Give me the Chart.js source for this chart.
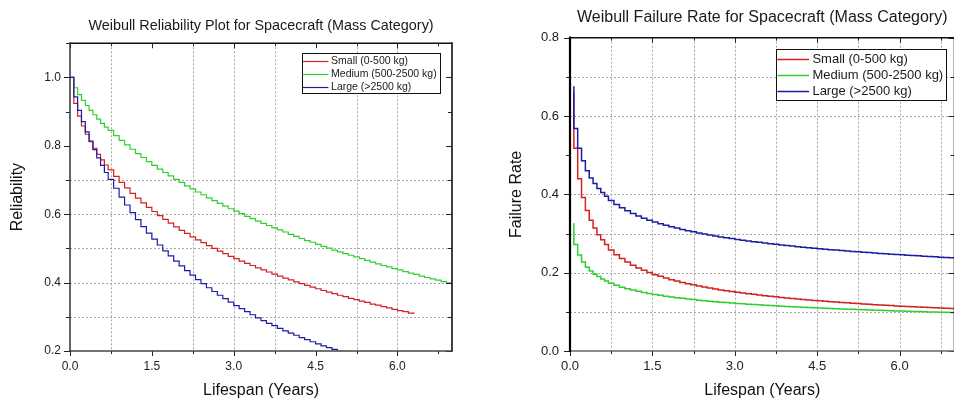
<!DOCTYPE html>
<html>
<head>
<meta charset="utf-8">
<script src="https://cdn.jsdelivr.net/npm/chart.js@4.4.1/dist/chart.umd.min.js"></script>
<style>
  html, body { margin: 0; padding: 0; background: #fff; overflow: hidden; }
  body { width: 954px; height: 401px; position: relative; }
  #izq { position: absolute; left: 0; top: 0; }
  #der { position: absolute; left: 477px; top: 0; }
</style>
</head>
<body>
<canvas id="izq" width="477" height="401"></canvas>
<canvas id="der" width="485" height="401"></canvas>
<script>
// tiempos (años) de cada escalón
const years = [0, 0.07, 0.14, 0.21, 0.28, 0.35, 0.42, 0.49, 0.56, 0.63, 0.7,
  0.8, 0.9, 1.0, 1.1, 1.2, 1.3, 1.4, 1.5, 1.6, 1.7, 1.8, 1.9, 2.0, 2.1, 2.2, 2.3, 2.4, 2.5,
  2.6, 2.7, 2.8, 2.9, 3.0, 3.1, 3.2, 3.3, 3.4, 3.5, 3.6, 3.7, 3.8, 3.9, 4.0, 4.1, 4.2,
  4.3, 4.4, 4.5, 4.6, 4.7, 4.8, 4.9, 5.0, 5.1, 5.2, 5.3, 5.4, 5.5, 5.6, 5.7, 5.8, 5.9,
  6.0, 6.1, 6.2, 6.3, 6.4, 6.5, 6.6, 6.7, 6.8, 6.9, 7.0];

const seriesNames = ["Small (0-500 kg)", "Medium (500-2500 kg)", "Large (>2500 kg)"];
const seriesColors = ["#d42020", "#2fcf2f", "#1c1ca8"];

// confiabilidad
const relSmall = [1.0, 0.924, 0.887, 0.858, 0.834, 0.812, 0.793, 0.775, 0.759, 0.744, 0.730,
  0.711, 0.693, 0.677, 0.661, 0.647, 0.633, 0.620, 0.608, 0.596, 0.585, 0.574, 0.563, 0.553,
  0.544, 0.534, 0.525, 0.517, 0.508, 0.500, 0.492, 0.485, 0.477, 0.470, 0.463, 0.456, 0.450,
  0.443, 0.437, 0.431, 0.425, 0.419, 0.413, 0.408, 0.402, 0.397, 0.392, 0.387, 0.382, 0.377,
  0.372, 0.368, 0.363, 0.359, 0.354, 0.350, 0.346, 0.342, 0.337, 0.334, 0.330, 0.326, 0.322,
  0.318, 0.315, 0.311, 0.308];
const relMedium = [1.0, 0.970, 0.950, 0.933, 0.918, 0.904, 0.891, 0.878, 0.866, 0.855, 0.845,
  0.830, 0.816, 0.803, 0.790, 0.777, 0.766, 0.754, 0.743, 0.732, 0.722, 0.712, 0.702, 0.693,
  0.683, 0.674, 0.665, 0.657, 0.648, 0.640, 0.632, 0.624, 0.616, 0.609, 0.602, 0.594, 0.587,
  0.580, 0.573, 0.567, 0.560, 0.554, 0.548, 0.541, 0.535, 0.529, 0.523, 0.518, 0.512, 0.506,
  0.501, 0.495, 0.490, 0.485, 0.480, 0.475, 0.470, 0.465, 0.460, 0.455, 0.450, 0.446, 0.441,
  0.437, 0.432, 0.428, 0.424, 0.419, 0.415, 0.411, 0.407, 0.403, 0.399, 0.395];
const relLarge = [1.0, 0.943, 0.904, 0.871, 0.841, 0.814, 0.789, 0.765, 0.743, 0.722, 0.702,
  0.676, 0.650, 0.627, 0.605, 0.584, 0.564, 0.545, 0.527, 0.510, 0.493, 0.478, 0.463, 0.449,
  0.435, 0.422, 0.409, 0.397, 0.385, 0.374, 0.363, 0.353, 0.343, 0.333, 0.324, 0.315, 0.306,
  0.297, 0.289, 0.281, 0.274, 0.266, 0.259, 0.252, 0.246, 0.239, 0.233, 0.227, 0.221, 0.215,
  0.210, 0.205, 0.199, 0.194];

// tasa de falla
const rateSmall = [null, 0.660, 0.518, 0.440, 0.392, 0.359, 0.334, 0.314, 0.297, 0.284, 0.272,
  0.258, 0.246, 0.236, 0.227, 0.219, 0.212, 0.206, 0.2005, 0.195, 0.191, 0.1865, 0.182, 0.179,
  0.175, 0.172, 0.169, 0.166, 0.1635, 0.161, 0.1585, 0.156, 0.154, 0.152, 0.150, 0.148, 0.1463,
  0.1446, 0.1429, 0.1413, 0.1398, 0.1383, 0.1369, 0.1355, 0.1341, 0.1329, 0.1316, 0.1304,
  0.1292, 0.1281, 0.1270, 0.1259, 0.1249, 0.1239, 0.1229, 0.1220, 0.1211, 0.1202, 0.1193,
  0.1184, 0.1176, 0.1168, 0.1160, 0.1152, 0.1144, 0.1137, 0.1130, 0.1123, 0.1116, 0.1109,
  0.1102, 0.1096, 0.1089, 0.1083];
const rateMedium = [null, 0.326, 0.272, 0.245, 0.227, 0.214, 0.204, 0.196, 0.190, 0.184, 0.179,
  0.1729, 0.1677, 0.1631, 0.1591, 0.1556, 0.1524, 0.1495, 0.1468, 0.1444, 0.1421, 0.1400,
  0.1380, 0.1362, 0.1345, 0.1329, 0.1314, 0.1299, 0.1285, 0.1272, 0.1260, 0.1248, 0.1237,
  0.1226, 0.1216, 0.1206, 0.1196, 0.1187, 0.1178, 0.1169, 0.1161, 0.1153, 0.1145, 0.1138,
  0.1130, 0.1123, 0.1116, 0.1110, 0.1103, 0.1097, 0.1091, 0.1085, 0.1079, 0.1073, 0.1068,
  0.1063, 0.1057, 0.1052, 0.1047, 0.1042, 0.1038, 0.1033, 0.1028, 0.1024, 0.1019, 0.1015,
  0.1011, 0.1007, 0.1003, 0.0999, 0.0995, 0.0991, 0.0987, 0.0984];
const rateLarge = [null, 0.676, 0.568, 0.518, 0.486, 0.460, 0.442, 0.428, 0.415, 0.405, 0.395,
  0.384, 0.374, 0.3655, 0.358, 0.351, 0.345, 0.339, 0.334, 0.3296, 0.3252, 0.3212, 0.3173,
  0.3138, 0.3104, 0.3073, 0.3043, 0.3014, 0.2987, 0.2962, 0.2937, 0.2914, 0.2892, 0.287,
  0.2849, 0.2830, 0.2810, 0.2792, 0.2774, 0.2757, 0.2741, 0.2725, 0.2709, 0.2694, 0.2679,
  0.2665, 0.2652, 0.2638, 0.2625, 0.2612, 0.2600, 0.2588, 0.2576, 0.2565, 0.2554, 0.2543,
  0.2532, 0.2522, 0.2512, 0.2502, 0.2492, 0.2483, 0.2473, 0.2464, 0.2455, 0.2446, 0.2438,
  0.2429, 0.2421, 0.2413, 0.2405, 0.2397, 0.2390, 0.2382];

const FUENTE = "'Liberation Sans', Arial, sans-serif";
Chart.defaults.font.family = FUENTE;
Chart.defaults.color = "#222";

function puntos(vals) {
  return vals.map((v, i) => ({ x: years[i], y: v })).filter(p => p.y !== null);
}

function series(valores, stepped, ancho) {
  // el orden hace que Large quede encima
  const orden = [2, 1, 0];
  return valores.map((vals, i) => ({
    label: seriesNames[i],
    data: puntos(vals),
    borderColor: seriesColors[i],
    borderWidth: ancho,
    pointRadius: 0,
    stepped: stepped,
    fill: false,
    order: orden[i]
  }));
}

// rejilla punteada, marco y marcas de los ejes
const marco = {
  id: "marco",
  beforeDatasetsDraw(chart, args, o) {
    const { ctx, chartArea: a, scales: { x, y } } = chart;
    ctx.save();
    ctx.strokeStyle = "#a6a6a6";
    ctx.lineWidth = 1;
    ctx.setLineDash([2, 2]);
    o.gridX.forEach(v => {
      const px = Math.round(x.getPixelForValue(v)) + 0.5;
      ctx.beginPath(); ctx.moveTo(px, a.top); ctx.lineTo(px, a.bottom); ctx.stroke();
    });
    o.gridY.forEach(v => {
      const py = Math.round(y.getPixelForValue(v)) + 0.5;
      ctx.beginPath(); ctx.moveTo(a.left, py); ctx.lineTo(a.right, py); ctx.stroke();
    });
    ctx.restore();
  },
  afterDraw(chart, args, o) {
    const { ctx, chartArea: a, scales: { x, y } } = chart;
    const linea = (x1, y1, x2, y2) => {
      ctx.beginPath(); ctx.moveTo(x1, y1); ctx.lineTo(x2, y2); ctx.stroke();
    };
    ctx.save();
    ctx.strokeStyle = "#222";
    ctx.lineWidth = 1;
    x.ticks.forEach(t => {
      const k = t.value / 0.75;
      if (Math.abs(k - Math.round(k)) > 1e-6) return;
      const len = t.label ? 5 : 3;
      const px = Math.round(x.getPixelForValue(t.value)) + 0.5;
      linea(px, a.bottom, px, a.bottom + len);
      linea(px, a.top, px, a.top + len);
    });
    y.ticks.forEach(t => {
      const len = t.label ? 6 : 4;
      const py = Math.round(y.getPixelForValue(t.value)) + 0.5;
      linea(a.left - len, py, a.left, py);
      linea(a.right - len, py, a.right, py);
    });
    const lados = o.lados;
    ctx.lineCap = "square";
    ctx.strokeStyle = lados.top[0]; ctx.lineWidth = lados.top[1];
    linea(a.left, a.top, a.right, a.top);
    ctx.strokeStyle = lados.right[0]; ctx.lineWidth = lados.right[1];
    linea(a.right, a.top, a.right, a.bottom);
    ctx.strokeStyle = lados.bottom[0]; ctx.lineWidth = lados.bottom[1];
    linea(a.left, a.bottom, a.right, a.bottom);
    ctx.strokeStyle = lados.left[0]; ctx.lineWidth = lados.left[1];
    linea(a.left, a.top, a.left, a.bottom);
    ctx.restore();
  }
};

// leyenda con recuadro, dentro del área del gráfico
const leyenda = {
  id: "leyenda",
  afterDraw(chart, args, o) {
    const { ctx, chartArea: a } = chart;
    const sets = chart.data.datasets;
    ctx.save();
    ctx.font = o.size + "px " + FUENTE;
    const w = Math.max(...sets.map(d => ctx.measureText(d.label).width));
    const boxW = o.inset + o.line + o.gap + w + o.padR;
    const right = a.right - o.right;
    const left = right - boxW;
    const top = a.top + o.top;
    ctx.fillStyle = "#fff";
    ctx.fillRect(left, top, boxW, o.height);
    ctx.strokeStyle = "#111";
    ctx.lineWidth = 1;
    ctx.strokeRect(Math.round(left) + 0.5, Math.round(top) + 0.5, Math.round(boxW), Math.round(o.height));
    sets.forEach((d, i) => {
      const cy = Math.round(top + o.first + i * o.row) + 0.5;
      ctx.strokeStyle = d.borderColor;
      ctx.lineWidth = o.lw;
      ctx.beginPath();
      ctx.moveTo(left + o.inset, cy);
      ctx.lineTo(left + o.inset + o.line, cy);
      ctx.stroke();
      ctx.fillStyle = "#1a1a1a";
      ctx.textBaseline = "middle";
      ctx.fillText(d.label, left + o.inset + o.line + o.gap, cy);
    });
    ctx.restore();
  }
};

function etiquetaX(v) {
  const k = Math.round(v / 0.75);
  if (Math.abs(v / 0.75 - k) > 1e-6 || k % 2 !== 0) return "";
  return v.toFixed(1);
}
function etiquetaY(v) {
  return Math.round(v * 10) % 2 === 0 ? v.toFixed(1) : "";
}

// Gráfica izquierda: confiabilidad
new Chart(document.getElementById("izq"), {
  type: "line",
  data: { datasets: series([relSmall, relMedium, relLarge], true, 1.2) },
  plugins: [marco, leyenda],
  options: {
    responsive: false,
    devicePixelRatio: 1,
    animation: false,
    events: [],
    layout: { padding: { left: 0, right: 25, top: 0, bottom: 0 } },
    scales: {
      x: {
        type: "linear", min: 0, max: 7,
        afterFit: s => { s.height = 50; },
        grid: { display: false, drawTicks: false },
        border: { display: false },
        ticks: { stepSize: 0.75, autoSkip: false, maxRotation: 0, padding: 8,
          font: { size: 12 }, color: "#222", callback: etiquetaX },
        title: { display: true, text: "Lifespan (Years)", font: { size: 16 },
          color: "#111", padding: { top: 0, bottom: 1 } }
      },
      y: {
        min: 0.2, max: 1.1,
        afterFit: s => { s.width = 70; },
        grid: { display: false, drawTicks: false },
        border: { display: false },
        ticks: { stepSize: 0.1, autoSkip: false, padding: 9,
          font: { size: 12 }, color: "#222", callback: etiquetaY },
        title: { display: true, text: "Reliability", font: { size: 16 },
          color: "#111", padding: { top: 8, bottom: 0 } }
      }
    },
    plugins: {
      legend: { display: false },
      tooltip: { enabled: false },
      title: {
        display: true, fullSize: false,
        text: "Weibull Reliability Plot for Spacecraft (Mass Category)",
        font: { size: 14.4, weight: "normal" }, color: "#1a1a1a",
        padding: { top: 17, bottom: 9 }
      },
      marco: {
        gridX: [0.75, 2.25, 3.0, 3.75, 5.25, 6.0],
        gridY: [0.3, 0.4, 0.5, 0.6, 0.7],
        lados: { top: ["#111", 1.6], right: ["#111", 1.6], bottom: ["#444", 1.5], left: ["#333", 1.5] }
      },
      leyenda: { size: 10.5, row: 13, first: 7.3, height: 40, inset: 0, line: 26,
        gap: 2.7, padR: 3.3, right: 12, top: 10, lw: 1.2 }
    }
  }
});

// Gráfica derecha: tasa de falla
new Chart(document.getElementById("der"), {
  type: "line",
  data: { datasets: series([rateSmall, rateMedium, rateLarge], "after", 1.5) },
  plugins: [marco, leyenda],
  options: {
    responsive: false,
    devicePixelRatio: 1,
    animation: false,
    events: [],
    layout: { padding: { left: 0, right: 4, top: 0, bottom: 0 } },
    scales: {
      x: {
        type: "linear", min: 0, max: 7,
        afterFit: s => { s.height = 50; },
        grid: { display: false, drawTicks: false },
        border: { display: false },
        ticks: { stepSize: 0.75, autoSkip: false, maxRotation: 0, padding: 7.5,
          font: { size: 13 }, color: "#222", callback: etiquetaX },
        title: { display: true, text: "Lifespan (Years)", font: { size: 16 },
          color: "#111", padding: { top: 0, bottom: 1 } }
      },
      y: {
        min: 0, max: 0.8,
        afterFit: s => { s.width = 93; },
        grid: { display: false, drawTicks: false },
        border: { display: false },
        ticks: { stepSize: 0.1, autoSkip: false, padding: 11,
          font: { size: 13 }, color: "#222", callback: etiquetaY },
        title: { display: true, text: "Failure Rate", font: { size: 16 },
          color: "#111", padding: { top: 30, bottom: 0 } }
      }
    },
    plugins: {
      legend: { display: false },
      tooltip: { enabled: false },
      title: {
        display: true, fullSize: false,
        text: "Weibull Failure Rate for Spacecraft (Mass Category)",
        font: { size: 16, weight: "normal" }, color: "#1a1a1a",
        padding: { top: 7.5, bottom: 11 }
      },
      marco: {
        gridX: [0.75, 1.5, 2.25, 3.0, 3.75, 4.5, 5.25, 6.0, 6.75],
        gridY: [0.1, 0.2, 0.3, 0.4, 0.6, 0.7],
        lados: { top: ["#111", 1.6], right: ["#111", 1.6], bottom: ["#666", 1.5], left: ["#000", 2.2] }
      },
      leyenda: { size: 13, row: 16, first: 9.7, height: 50.7, inset: 1.6, line: 31.7,
        gap: 3.3, padR: 2.7, right: 8.6, top: 11.6, lw: 1.5 }
    }
  }
});
</script>
</body>
</html>
